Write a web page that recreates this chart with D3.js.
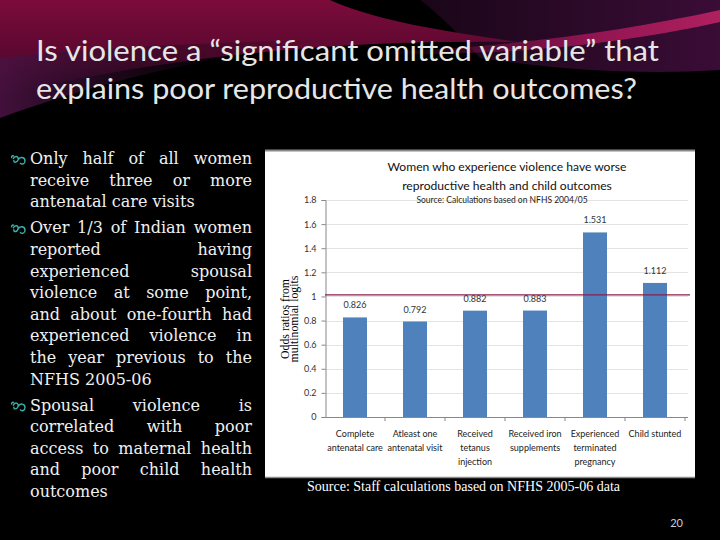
<!DOCTYPE html>
<html><head><meta charset="utf-8">
<script src="https://cdn.jsdelivr.net/npm/d3@7/dist/d3.min.js"></script>
<style>html,body{margin:0;padding:0;background:#000;}svg{display:block;}</style>
</head><body>
<svg id="c" width="720" height="540"></svg>
<script>
// ---------- data ----------
const categories = [
  ["Complete", "antenatal care"],
  ["Atleast one", "antenatal visit"],
  ["Received", "tetanus", "injection"],
  ["Received iron", "supplements"],
  ["Experienced", "terminated", "pregnancy"],
  ["Child stunted"]
];
const values = [0.826, 0.792, 0.882, 0.883, 1.531, 1.112];
const valueLabels = ["0.826", "0.792", "0.882", "0.883", "1.531", "1.112"];
const yTicks = [0, 0.2, 0.4, 0.6, 0.8, 1, 1.2, 1.4, 1.6, 1.8];
const yTickLabels = ["0", "0.2", "0.4", "0.6", "0.8", "1", "1.2", "1.4", "1.6", "1.8"];
const refValue = 1;
const slideTitle = ["Is violence a \u201csignificant omitted variable\u201d that",
                    "explains poor reproductive health outcomes?"];
const chartTitle = ["Women who experience violence have worse",
                    "reproductive health and child outcomes"];
const chartSubtitle = "Source: Calculations based on NFHS 2004/05";
const yLabel = ["Odds ratios from", "multinomial logits"];
const sourceNote = "Source: Staff calculations based on NFHS 2005-06 data";
const pageNumber = "20";
const bullets = [
  ["Only half of all women", "receive three or more", "antenatal care visits"],
  ["Over 1/3 of Indian women", "reported having", "experienced spousal",
   "violence at some point,", "and about one-fourth had", "experienced violence in",
   "the year previous to the", "NFHS 2005-06"],
  ["Spousal violence is", "correlated with poor", "access to maternal health",
   "and poor child health", "outcomes"]
];

// ---------- background ----------
const svg = d3.select("#c");
const defs = svg.append("defs");
const g1 = defs.append("linearGradient").attr("id","crim").attr("x1",0).attr("y1",0).attr("x2",0).attr("y2",1);
g1.append("stop").attr("offset","0%").attr("stop-color","#7c0b3a");
g1.append("stop").attr("offset","60%").attr("stop-color","#5a0830");
g1.append("stop").attr("offset","100%").attr("stop-color","#000");
const g2 = defs.append("linearGradient").attr("id","purp").attr("x1",0).attr("y1",0).attr("x2",1).attr("y2",0);
g2.append("stop").attr("offset","0%").attr("stop-color","#1a0618");
g2.append("stop").attr("offset","100%").attr("stop-color","#3a0c36");
const g3 = defs.append("linearGradient").attr("id","mag").attr("x1",0).attr("y1",0).attr("x2",1).attr("y2",0);
g3.append("stop").attr("offset","0%").attr("stop-color","#8a1050").attr("stop-opacity",0);
g3.append("stop").attr("offset","60%").attr("stop-color","#9a1555").attr("stop-opacity",0.9);
g3.append("stop").attr("offset","100%").attr("stop-color","#b0205f");
const g4 = defs.append("linearGradient").attr("id","wedge").attr("x1",0).attr("y1",0).attr("x2",1).attr("y2",0);
g4.append("stop").attr("offset","0%").attr("stop-color","#4a1242");
g4.append("stop").attr("offset","100%").attr("stop-color","#000").attr("stop-opacity",0);

svg.append("rect").attr("width",720).attr("height",540).attr("fill","#000");
svg.append("path").attr("d","M420,0 L720,0 L720,70 C640,75 560,70 480,58 C460,35 440,15 420,0 Z").attr("fill","url(#purp)");
svg.append("path").attr("d","M0,0 L330,0 C370,18 430,30 520,42 C360,40 200,50 0,95 Z").attr("fill","url(#crim)");
svg.append("path").attr("d","M0,58 C90,48 200,42 330,40 C200,58 90,85 0,118 Z").attr("fill","url(#wedge)").attr("opacity",0.9);
svg.append("path").attr("d","M380,52 C500,48 620,32 720,10 L720,22 C630,42 520,56 380,54 Z").attr("fill","url(#mag)");

// ---------- slide title ----------
svg.append("g").selectAll("text").data(slideTitle).join("text")
  .attr("x",36).attr("y",(d,i)=>61+i*38)
  .attr("font-family","Lato, 'Open Sans', sans-serif").attr("font-size",28)
  .attr("fill","#e6e6e6")
  .attr("textLength",(d,i)=>i===0?623:601).attr("lengthAdjust","spacingAndGlyphs")
  .text(d=>d);

// ---------- bullets (justified) ----------
const bg = svg.append("g").attr("font-family","'DejaVu Serif', serif").attr("font-size",16).attr("fill","#f0f0f0");
const left = 30, right = 252, lineH = 21.6;
let y = 164;
bullets.forEach((para, pi) => {
  bg.append("path")
    .attr("d",`M${13},${y-5} c2,-4 6,-3 5,1 c-1,3 -5,3 -4,0 M${18},${y-4} c2,-4 7,-3 7,1 c0,3 -3,4 -5,2 M${14},${y-8} c-2,-1 -3,1 -2,2`)
    .attr("fill","none").attr("stroke","#3ab0a8").attr("stroke-width",1.4);
  para.forEach((line, li) => {
    const last = li === para.length - 1;
    const words = line.split(" ");
    if (last || words.length < 2) {
      bg.append("text").attr("x",left).attr("y",y).text(line);
    } else {
      const nodes = words.map(w => bg.append("text").attr("y",y).text(w));
      const widths = nodes.map(n => n.node().getComputedTextLength());
      const total = d3.sum(widths);
      let gap = (right - left - total) / (words.length - 1);
      let scale = 1;
      if (gap < 3) { scale = (right - left - 3*(words.length-1)) / total; gap = 3; }
      let x = left;
      nodes.forEach((n, k) => {
        n.attr("x", x);
        if (scale < 1) n.attr("textLength", widths[k]*scale).attr("lengthAdjust","spacingAndGlyphs");
        x += widths[k]*scale + gap;
      });
    }
    y += lineH;
  });
  y += 4.5;
});

// ---------- chart panel ----------
svg.append("rect").attr("x",265).attr("y",150).attr("width",430).attr("height",328).attr("fill","#fff");
svg.append("line").attr("x1",265).attr("x2",695).attr("y1",150.5).attr("y2",150.5).attr("stroke","#8a8a8a").attr("stroke-width",2);
svg.append("line").attr("x1",265).attr("x2",695).attr("y1",477.5).attr("y2",477.5).attr("stroke","#8a8a8a").attr("stroke-width",1.5);

const x = d3.scaleBand().domain(d3.range(categories.length)).range([325,685]).paddingInner(0.6).paddingOuter(0.3);
const yS = d3.scaleLinear().domain([0,1.8]).range([417,200]);
const cf = "Lato, 'Open Sans', sans-serif";

// gridlines
svg.append("g").selectAll("line").data(yTicks.slice(1)).join("line")
  .attr("x1",325).attr("x2",688).attr("y1",d=>Math.round(yS(d))+0.5).attr("y2",d=>Math.round(yS(d))+0.5)
  .attr("stroke","#e3e3e3").attr("stroke-width",1);

// y axis
const yAxis = svg.append("g").attr("transform","translate(325.5,0)")
  .call(d3.axisLeft(yS).tickValues(yTicks).tickFormat((d,i)=>yTickLabels[i]).tickSize(4).tickPadding(5));
yAxis.selectAll("path,line").attr("stroke","#888");
yAxis.selectAll("text").attr("font-family",cf).attr("font-size",9).attr("fill","#333");

// bars
svg.append("g").selectAll("rect").data(values).join("rect")
  .attr("x",(d,i)=>x(i)).attr("width",x.bandwidth())
  .attr("y",d=>yS(d)).attr("height",d=>yS(0)-yS(d))
  .attr("fill","#4f81bd");

// x axis
const step = x.step();
const xAxisG = svg.append("g");
xAxisG.append("line").attr("x1",325).attr("x2",688).attr("y1",417.5).attr("y2",417.5).attr("stroke","#888");
xAxisG.selectAll("line.t").data(d3.range(categories.length)).join("line").attr("class","t")
  .attr("x1",(d,i)=>x(i)+x.bandwidth()/2+step/2).attr("x2",(d,i)=>x(i)+x.bandwidth()/2+step/2)
  .attr("y1",417).attr("y2",421).attr("stroke","#888");

// reference line
svg.append("line").attr("x1",325).attr("x2",690).attr("y1",yS(refValue)-1.5).attr("y2",yS(refValue)-1.5)
  .attr("stroke","#8b1c4e").attr("stroke-width",1.2);

// value labels
svg.append("g").selectAll("text").data(values).join("text")
  .attr("x",(d,i)=>x(i)+x.bandwidth()/2).attr("y",d=>yS(d)-9)
  .attr("text-anchor","middle").attr("font-family",cf).attr("font-size",9).attr("fill","#333")
  .text((d,i)=>valueLabels[i]);

// category labels
const cat = svg.append("g").attr("font-family",cf).attr("font-size",9).attr("fill","#222").attr("text-anchor","middle");
categories.forEach((lines,i)=>{
  lines.forEach((t,j)=>{
    cat.append("text").attr("x",x(i)+x.bandwidth()/2).attr("y",437+j*14).text(t);
  });
});

// chart titles
svg.append("g").selectAll("text").data(chartTitle).join("text")
  .attr("x",507).attr("y",(d,i)=>171+i*18.5).attr("text-anchor","middle")
  .attr("font-family",cf).attr("font-size",12.1).attr("fill","#111").text(d=>d);
svg.append("text").attr("x",502).attr("y",203).attr("text-anchor","middle")
  .attr("font-family",cf).attr("font-size",8.5).attr("fill","#222").text(chartSubtitle);

// y label
svg.append("g").selectAll("text").data(yLabel).join("text")
  .attr("transform",(d,i)=>`translate(${289+i*8.5},319) rotate(-90)`)
  .attr("text-anchor","middle").attr("font-family","'Liberation Serif', serif").attr("font-size",11.8)
  .attr("fill","#000").text(d=>d);

// source & page number
svg.append("text").attr("x",307).attr("y",491).attr("font-family","'Liberation Serif', serif")
  .attr("font-size",14).attr("fill","#fff").attr("textLength",313).attr("lengthAdjust","spacingAndGlyphs").text(sourceNote);
svg.append("text").attr("x",683).attr("y",527).attr("text-anchor","end").attr("font-family",cf)
  .attr("font-size",11).attr("fill","#cfcfcf").text(pageNumber);
</script>
</body></html>
